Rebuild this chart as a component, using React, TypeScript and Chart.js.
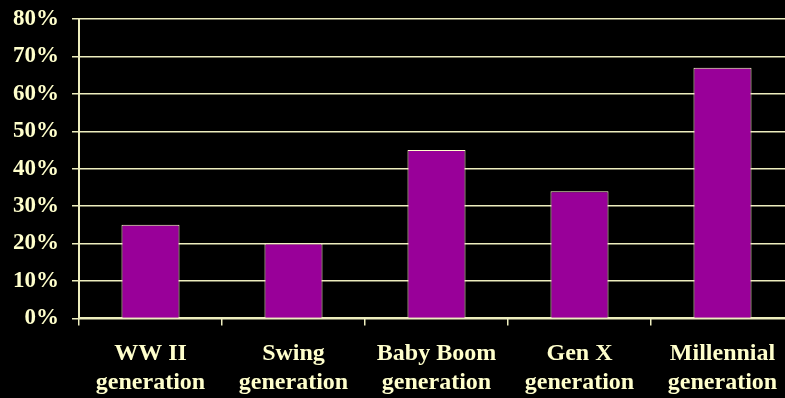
import React, { useEffect, useRef } from "react";
import { Chart, registerables } from "chart.js";

Chart.register(...registerables);

// Share of each generation, as fractions of 1
const generations: string[][] = [
  ["WW II", "generation"],
  ["Swing", "generation"],
  ["Baby Boom", "generation"],
  ["Gen X", "generation"],
  ["Millennial", "generation"],
];
const shares: number[] = [0.25, 0.2, 0.45, 0.34, 0.67];
const yMax = 0.8;
const yStep = 0.1;

const CREAM = "#FFFFCC";
const LINE = "#EDEDBE";
const PURPLE = "#990099";
const FAMILY = "'Liberation Serif', 'Times New Roman', serif";

export default function App() {
  const canvasRef = useRef<HTMLCanvasElement | null>(null);

  useEffect(() => {
    document.body.style.margin = "0";
    document.body.style.background = "#000";
    document.body.style.overflow = "hidden";
    const canvas = canvasRef.current;
    if (!canvas) return;
    const chart = new Chart(canvas, {
      type: "bar",
      data: {
        labels: generations,
        datasets: [
          {
            data: shares,
            backgroundColor: PURPLE,
            borderColor: CREAM,
            borderWidth: 1,
            categoryPercentage: 1,
            barPercentage: 0.406,
          },
        ],
      },
      options: {
        animation: false,
        responsive: false,
        maintainAspectRatio: false,
        layout: { padding: { left: 0, right: 16, top: 0, bottom: -13 } },
        plugins: { legend: { display: false }, tooltip: { enabled: false } },
        scales: {
          x: {
            grid: {
              display: true,
              drawOnChartArea: false,
              drawTicks: true,
              tickLength: 7,
              color: LINE,
              lineWidth: 1.5,
              offset: true,
            },
            border: { display: true, color: LINE, width: 2 },
            ticks: {
              color: CREAM,
              font: { family: FAMILY, weight: "bold", size: 24, lineHeight: 1.2 },
              padding: 14,
              maxRotation: 0,
              autoSkip: false,
            },
          },
          y: {
            min: 0,
            max: yMax,
            grid: { color: LINE, lineWidth: 1.5, tickLength: 7, drawTicks: true },
            border: { display: true, color: LINE, width: 2 },
            ticks: {
              stepSize: yStep,
              color: CREAM,
              // small line box keeps the top overhang tight; labels are single-line
              font: { family: FAMILY, weight: "bold", size: 23, lineHeight: 0.52 },
              padding: 13,
              callback: (v) => `${Math.round(Number(v) * 100)}%`,
            },
          },
        },
      },
    });
    return () => chart.destroy();
  }, []);

  return (
    <div style={{ position: "fixed", left: 0, top: 0, width: 785, height: 398, overflow: "hidden", background: "#000" }}>
      <canvas ref={canvasRef} width={810} height={398} style={{ display: "block" }} />
    </div>
  );
}
